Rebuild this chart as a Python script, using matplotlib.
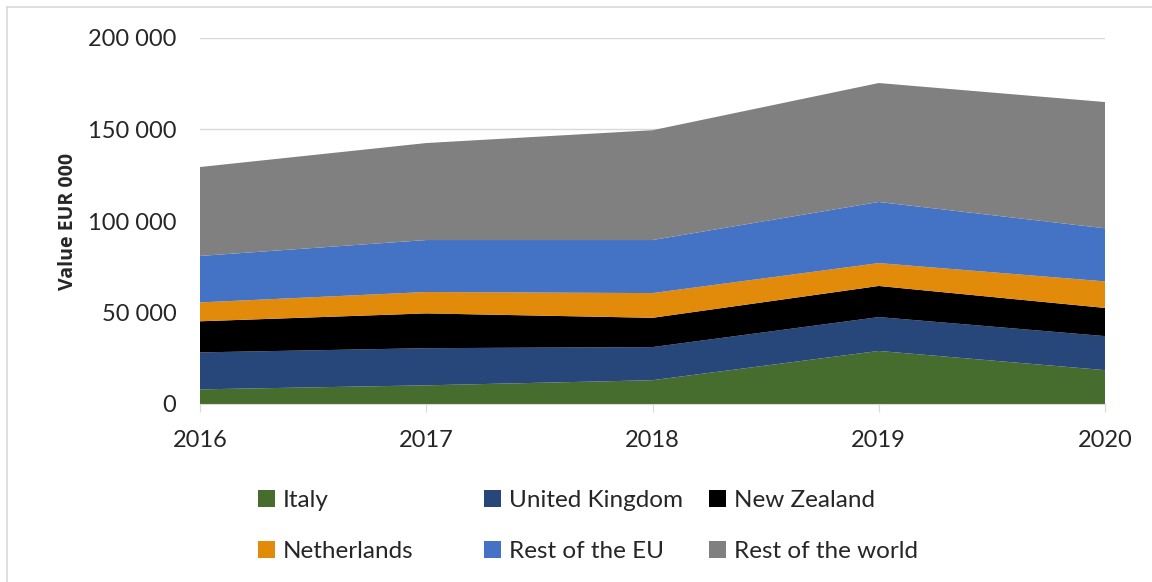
import matplotlib
matplotlib.use("Agg")
import matplotlib.pyplot as plt
import matplotlib.patches as mpatches
from matplotlib.lines import Line2D
from matplotlib.ticker import FuncFormatter

years = [2016, 2017, 2018, 2019, 2020]
italy = [8000, 10200, 13000, 29000, 18500]
united_kingdom = [20200, 20300, 18100, 18500, 18600]
new_zealand = [17000, 19000, 16000, 17000, 15400]
netherlands = [10300, 11700, 13500, 12500, 14500]
rest_eu = [25400, 28400, 29000, 33400, 29000]
rest_world = [48600, 53000, 60000, 65000, 69000]

labels = ["Italy", "United Kingdom", "New Zealand",
          "Netherlands", "Rest of the EU", "Rest of the world"]
colors = ["#476d2e", "#27467a", "#000000", "#e28b0a", "#4472c4", "#808080"]

TEXT = "#262626"
GRID = "#d9d9d9"
FONT = ["Lato", "DejaVu Sans"]
plt.rcParams["font.family"] = FONT

fig = plt.figure(figsize=(11.52, 5.82), dpi=100)
ax = fig.add_axes([200 / 1152, 1 - 404 / 582, 905 / 1152, 366 / 582])

polys = ax.stackplot(years, italy, united_kingdom, new_zealand,
                     netherlands, rest_eu, rest_world,
                     colors=colors, labels=labels, zorder=2)

ax.set_xlim(2016, 2020)
ax.set_ylim(0, 200000)
ax.set_xticks(years)
ax.set_yticks(range(0, 200001, 50000))
ax.yaxis.set_major_formatter(FuncFormatter(lambda v, p: f"{int(v):,}".replace(",", " ")))
ax.grid(axis="y", color=GRID, lw=1, zorder=0)
ax.set_axisbelow(True)

for s in ["top", "right", "left"]:
    ax.spines[s].set_visible(False)
ax.spines["bottom"].set_color(GRID)
ax.spines["bottom"].set_zorder(3)
ax.tick_params(axis="y", length=0, pad=17, labelsize=17, labelcolor=TEXT)
ax.tick_params(axis="x", length=6, color=GRID, pad=13, labelsize=17, labelcolor=TEXT)

ax.set_ylabel("Value EUR 000", fontsize=14, fontweight="bold", color=TEXT,
              labelpad=7, family=["Open Sans", "DejaVu Sans"])

# legend: three fixed-width columns, two rows
handles = [mpatches.Patch(facecolor=c, edgecolor="none") for c in colors]
col_x = [248 / 1152, 474 / 1152, 699 / 1152]
for i, x in enumerate(col_x):
    fig.legend([handles[i], handles[i + 3]], [labels[i], labels[i + 3]],
               loc="upper left", bbox_to_anchor=(x, 1 - 480 / 582),
               frameon=False, fontsize=17.5, handlelength=0.7, handleheight=0.7,
               handletextpad=0.35, labelspacing=1.25, borderaxespad=0,
               labelcolor=TEXT)

# chart frame
fig.add_artist(Line2D([7 / 1152, 1], [1 - 7 / 582, 1 - 7 / 582], color=GRID, lw=1.2))
fig.add_artist(Line2D([7 / 1152, 7 / 1152], [0, 1 - 7 / 582], color=GRID, lw=1.2))

fig.savefig("out.png", dpi=100, facecolor="white")
